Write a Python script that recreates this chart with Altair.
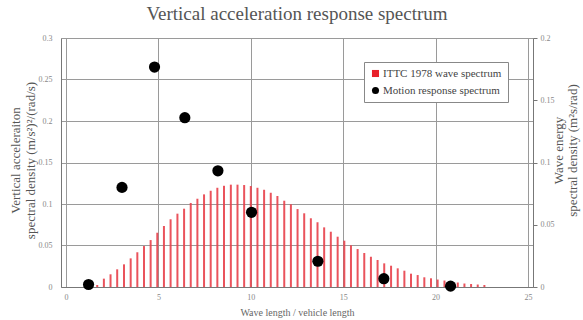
import altair as alt
import pandas as pd

FONT = "Liberation Serif"

series_names = ["ITTC 1978 wave spectrum", "Motion response spectrum"]

bar_x = [1.69, 2.05, 2.41, 2.77, 3.14, 3.50, 3.86, 4.22, 4.58, 4.94,
         5.30, 5.66, 6.03, 6.39, 6.75, 7.11, 7.47, 7.83, 8.19, 8.55,
         8.92, 9.28, 9.64, 10.00, 10.36, 10.72, 11.08, 11.44, 11.81, 12.17,
         12.53, 12.89, 13.25, 13.61, 13.97, 14.33, 14.70, 15.06, 15.42, 15.78,
         16.14, 16.50, 16.86, 17.22, 17.59, 17.95, 18.31, 18.67, 19.03, 19.39,
         19.75, 20.11, 20.48, 20.84, 21.20, 21.56, 21.92, 22.28, 22.64]
bar_y = [0.0016, 0.0067, 0.0102, 0.0142, 0.0182, 0.0230, 0.0279, 0.0329, 0.0377, 0.0436,
         0.0490, 0.0544, 0.0589, 0.0629, 0.0675, 0.0709, 0.0744, 0.0773, 0.0797, 0.0813,
         0.0822, 0.0822, 0.0819, 0.0811, 0.0797, 0.0781, 0.0757, 0.0731, 0.0693, 0.0664,
         0.0626, 0.0592, 0.0552, 0.0520, 0.0479, 0.0444, 0.0404, 0.0372, 0.0335, 0.0305,
         0.0273, 0.0243, 0.0217, 0.0190, 0.0171, 0.0150, 0.0131, 0.0107, 0.0096, 0.0078,
         0.0070, 0.0060, 0.0052, 0.0044, 0.0036, 0.0028, 0.0024, 0.0020, 0.0016]

dot_x = [1.22, 3.03, 4.79, 6.43, 8.22, 10.04, 13.63, 17.20, 20.81]
dot_y = [0.003, 0.120, 0.265, 0.204, 0.140, 0.090, 0.031, 0.010, 0.001]

x_ticks = [0, 5, 10, 15, 20, 25]
left_ticks = [0, 0.05, 0.1, 0.15, 0.2, 0.25, 0.3]
right_ticks = [0, 0.05, 0.1, 0.15, 0.2]

bars = pd.DataFrame({"x": bar_x, "y": bar_y})
dots = pd.DataFrame({"x": dot_x, "y": dot_y, "series": series_names[1]})

xscale = alt.Scale(domain=[0, 25], nice=False, zero=True)
xaxis = alt.Axis(values=x_ticks, grid=True, gridColor="#9a9a9a", gridWidth=1,
                 ticks=False, labelPadding=6, labelFontSize=8, labelColor="#888",
                 labelFont=FONT, domainColor="#777",
                 title="Wave length / vehicle length", titleFont=FONT,
                 titleFontSize=10, titleFontWeight="normal", titleColor="#666",
                 titlePadding=6)

legend_kw = dict(title=None, orient="none", legendX=303, legendY=24,
                 padding=6, strokeColor="#888", fillColor="white",
                 labelFont=FONT, labelFontSize=11, labelColor="#444",
                 symbolSize=50, labelOffset=2, rowPadding=5, symbolStrokeWidth=0)

bar_layer = alt.Chart(bars).mark_bar(size=2, color="#e8404a", opacity=0.9).encode(
    x=alt.X("x:Q", scale=xscale, axis=xaxis),
    y=alt.Y("y:Q", scale=alt.Scale(domain=[0, 0.2], nice=False),
            axis=alt.Axis(orient="right", values=right_ticks, grid=False,
                          tickSize=4, tickColor="#777", domainColor="#777",
                          labelPadding=3, labelFontSize=8, labelColor="#888",
                          labelFont=FONT, format="~g",
                          title=["Wave energy", "spectral density (m²s/rad)"],
                          titleFont=FONT, titleFontSize=13, titleFontWeight="normal",
                          titleColor="#555", titleAngle=270, titleAlign="center",
                          titleBaseline="middle", titleLineHeight=14,
                          titleX=25, titleY=112)),
)

dot_layer = alt.Chart(dots).mark_point(filled=True, opacity=1).encode(
    x=alt.X("x:Q", scale=xscale, axis=xaxis),
    y=alt.Y("y:Q", scale=alt.Scale(domain=[0, 0.3], nice=False),
            axis=alt.Axis(orient="left", values=left_ticks, grid=True,
                          gridColor="#9a9a9a", gridWidth=1, ticks=False,
                          domainColor="#777", labelPadding=9, labelFontSize=8,
                          labelColor="#888", labelFont=FONT, format="~g",
                          title=["Vertical acceleraiton", "spectral density  (m/s²)²/(rad/s)"],
                          titleFont=FONT, titleFontSize=13, titleFontWeight="normal",
                          titleColor="#555", titleAngle=270, titleAlign="center",
                          titleBaseline="middle", titleLineHeight=15,
                          titleX=-46, titleY=122)),
    color=alt.Color("series:N",
                    scale=alt.Scale(domain=series_names, range=["#e8202a", "black"]),
                    legend=alt.Legend(**legend_kw)),
    shape=alt.Shape("series:N",
                    scale=alt.Scale(domain=series_names, range=["square", "circle"]),
                    legend=alt.Legend(**legend_kw)),
    size=alt.value(125),
)

chart = alt.layer(bar_layer, dot_layer).resolve_scale(y="independent").properties(
    width=472,
    height=249,
    title=alt.TitleParams("Vertical acceleration response spectrum", font=FONT,
                          fontSize=19, fontWeight="normal", color="#555",
                          anchor="middle", offset=10),
    autosize=alt.AutoSizeParams(type="none"),
    padding={"left": 61, "top": 38, "right": 50, "bottom": 33},
).configure_view(stroke="#888", strokeWidth=1).configure(background="white")

chart.save("out.html", embed_options={"renderer": "svg", "actions": False})
